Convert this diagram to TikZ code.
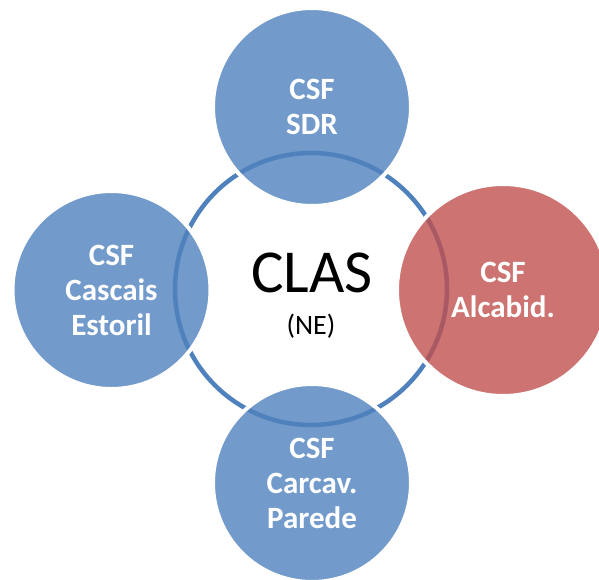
\documentclass[tikz,border=0pt]{standalone}
\usepackage{fontspec}
\setmainfont{Carlito}
\usepackage{xcolor}

\definecolor{ringblue}{HTML}{4F81BD}
\definecolor{clusterred}{HTML}{C0504D}

\tikzset{
  csf/.style={circle, draw=white, line width=4pt, fill=ringblue,
    fill opacity=0.8, draw opacity=1, text opacity=1, text=white,
    minimum size=#1, inner sep=0pt, align=center,
    font=\fontsize{31}{35}\selectfont\bfseries},
  csf/.default=198pt
}

\begin{document}
\begin{tikzpicture}[x=1pt,y=-1pt]
    \useasboundingbox (0,0) rectangle (599,579);

    % central ring
    \node [circle, draw=ringblue, line width=4.5pt, minimum size=272pt,
           inner sep=0pt] (clas) at (311,289) {};
    \node [font=\fontsize{61}{61}\selectfont] (clastxt) at (312,273) {CLAS};
    \node [font=\fontsize{28}{28}\selectfont] (ne) at (311,326) {(NE)};

    % satellites
    \node [csf] (sdr) at (312,107) {CSF\\SDR};
    \node [csf] (cascais) at (111.5,290) {CSF\\Cascais\\Estoril};
    \node [csf=212pt, fill=clusterred] (alcabid) at (503,290) {CSF\\Alcabid.};
    \node [csf] (carcav) at (312,483) {CSF\\Carcav.\\Parede};

\end{tikzpicture}
\end{document}
